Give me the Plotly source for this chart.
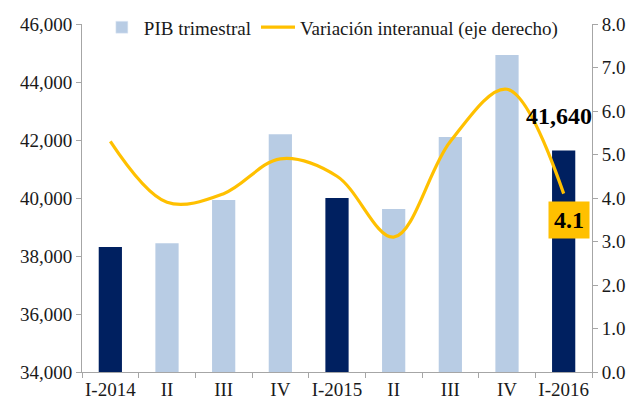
import plotly.graph_objects as go

categories = ["I-2014", "II", "III", "IV", "I-2015", "II", "III", "IV", "I-2016"]
pib_trimestral = [38310, 38440, 39930, 42200, 40000, 39620, 42100, 44930, 41640]
variacion_interanual = [5.3, 3.9, 4.1, 4.9, 4.5, 3.1, 5.3, 6.5, 4.1]

x = list(range(len(categories)))
dark = "#002060"
light = "#B8CCE4"
bar_colors = [dark if c.startswith("I-") else light for c in categories]
FF = "Liberation Serif"
txt = "#1a1a1a"

def f(size, color=txt):
    return dict(family=FF, size=size, color=color)

fig = go.Figure()
fig.add_trace(go.Bar(
    x=x, y=pib_trimestral, name="PIB trimestral",
    marker=dict(color=bar_colors, line=dict(width=0)),
    yaxis="y", showlegend=False, hoverinfo="skip",
))
fig.add_trace(go.Bar(
    x=[None], y=[None], name="PIB trimestral",
    marker=dict(color=light), yaxis="y", showlegend=True,
))
fig.add_trace(go.Scatter(
    x=x, y=variacion_interanual, name="Variación interanual (eje derecho)",
    mode="lines", line=dict(color="#FFC000", width=3.2, shape="spline", smoothing=1.0),
    yaxis="y2", hoverinfo="skip",
))

fig.add_annotation(
    x=8, y=pib_trimestral[-1], xref="x", yref="y",
    text="<b>41,640</b>", showarrow=False,
    xanchor="center", yanchor="bottom", xshift=-5, yshift=19,
    font=f(24, "#000000"),
)
fig.add_annotation(
    x=8, y=variacion_interanual[-1], xref="x", yref="y2",
    text="<b>4.1</b>", showarrow=False,
    xanchor="center", yanchor="top", xshift=5, yshift=-7,
    bgcolor="#FFC000", borderpad=5,
    font=f(24, "#000000"),
)

fig.update_layout(
    width=639, height=403,
    margin=dict(l=82, r=47, t=24, b=31, autoexpand=False),
    paper_bgcolor="white", plot_bgcolor="white",
    font=f(19),
    bargap=0.59,
    showlegend=True,
    hovermode=False,
    legend=dict(
        orientation="h", x=0.035, y=1.045, xanchor="left", yanchor="top",
        bgcolor="rgba(0,0,0,0)", font=f(19),
        itemwidth=34, tracegroupgap=0,
    ),
    xaxis=dict(
        range=[-0.5, 8.5], tickvals=x, ticktext=categories, automargin=False,
        showline=True, linecolor="#a6a6a6", linewidth=1,
        showgrid=False, zeroline=False, ticks="",
        minor=dict(tick0=-0.5, dtick=1, ticks="outside", ticklen=5,
                   tickcolor="#a6a6a6", showgrid=False),
        tickfont=f(19),
    ),
    yaxis=dict(
        range=[34000, 46000], dtick=2000, tickformat=",.0f", automargin=False,
        showline=True, linecolor="#a6a6a6", linewidth=1,
        showgrid=False, zeroline=False,
        ticks="outside", ticklen=5, tickcolor="#a6a6a6",
        tickfont=f(19),
    ),
    yaxis2=dict(
        range=[0, 8], dtick=1, tickformat=".1f", overlaying="y", side="right",
        automargin=False,
        showline=True, linecolor="#a6a6a6", linewidth=1,
        showgrid=False, zeroline=False,
        ticks="outside", ticklen=5, tickcolor="#a6a6a6",
        tickfont=f(19),
    ),
)

fig.write_html("out.html", config={"displayModeBar": False},
               post_script="document.body.style.margin='0';")
